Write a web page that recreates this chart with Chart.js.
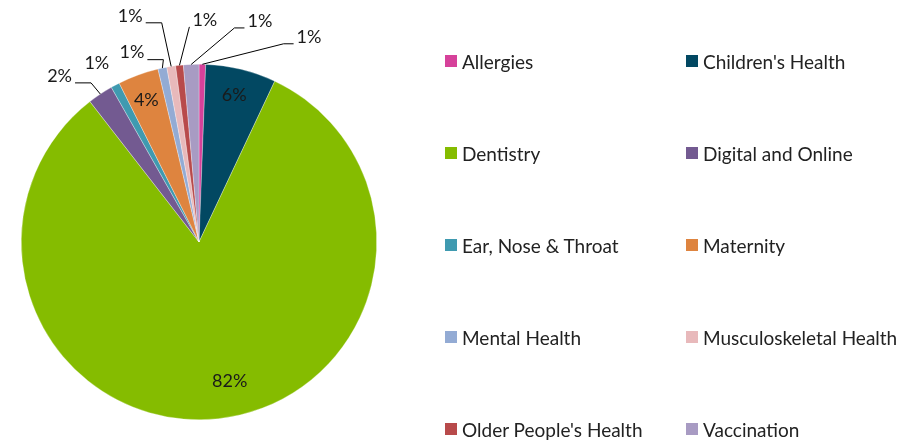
<!DOCTYPE html>
<html>
<head>
<meta charset="utf-8">
<script src="https://cdn.jsdelivr.net/npm/chart.js@4"></script>
<style>
  html, body { margin: 0; padding: 0; background: #fff; }
  #wrap { position: relative; width: 924px; height: 440px; overflow: hidden; }
  #pie { position: absolute; left: 0; top: 0; }
  .leg { position: absolute; display: flex; align-items: center; height: 22px;
         font-family: Lato, "Open Sans", sans-serif; font-size: 19px; color: #222; white-space: nowrap; }
  .leg i { display: inline-block; width: 12px; height: 12px; margin-right: 5px; }
</style>
</head>
<body>
<div id="wrap">
  <canvas id="pie" width="924" height="440"></canvas>
</div>
<script>
(function () {

  const categories = [
    "Allergies", "Children's Health", "Dentistry", "Digital and Online",
    "Ear, Nose & Throat", "Maternity", "Mental Health", "Musculoskeletal Health",
    "Older People's Health", "Vaccination"
  ];
  const shares = [0.6, 6.4, 82.4, 2.3, 0.8, 3.7, 0.8, 0.8, 0.7, 1.4];
  const colors = [
    "#d6419a", "#024862", "#85bc00", "#735a91", "#3f9ab0",
    "#de843f", "#93abd4", "#e8b9bb", "#b84a4b", "#a89bc3"
  ];

  /* label placement: in = inside slice, out = outside with leader line
     (ang = degrees clockwise from top, r = multiple of radius) */
  const labelPlace = [
    { out: true, ang: 28.2, r: 1.31, side: "right" },
    { ang: 13.5, r: 0.85 },
    { ang: 167.5, r: 0.8 },
    { out: true, ang: -40, r: 1.22, side: "left" },
    { out: true, ang: -29.7, r: 1.16, noLine: true },
    { ang: -20.4, r: 0.85 },
    { out: true, ang: -19.5, r: 1.13, side: "left" },
    { out: true, ang: -16.9, r: 1.33, side: "left" },
    { out: true, ang: 1.5, r: 1.25, side: "right", short: true },
    { out: true, ang: 15.4, r: 1.29, side: "right" }
  ];

  const total = shares.reduce((a, b) => a + b, 0);

  const pieLabels = {
    id: "pieLabels",
    afterDatasetsDraw(chart) {
      const ctx = chart.ctx;
      const arcs = chart.getDatasetMeta(0).data;
      ctx.save();
      ctx.font = "18px Lato, 'Open Sans', sans-serif";
      ctx.fillStyle = "#1a1a1a";
      ctx.textAlign = "center";
      ctx.textBaseline = "middle";
      ctx.strokeStyle = "#000";
      ctx.lineWidth = 1;
      arcs.forEach((arc, i) => {
        const p = arc.getProps(["x", "y", "startAngle", "endAngle", "outerRadius"], true);
        const lp = labelPlace[i];
        const txt = Math.round(shares[i] / total * 100) + "%";
        const a = (lp.ang - 90) * Math.PI / 180;
        const tx = p.x + Math.cos(a) * p.outerRadius * lp.r;
        const ty = p.y + Math.sin(a) * p.outerRadius * lp.r;
        ctx.fillText(txt, tx, ty);
        if (!lp.out || lp.noLine) return;
        const mid = (p.startAngle + p.endAngle) / 2;
        const ex = p.x + Math.cos(mid) * p.outerRadius;
        const ey = p.y + Math.sin(mid) * p.outerRadius;
        const w = ctx.measureText(txt).width;
        const ly = ty + 7;
        let hx1, hx2;
        if (lp.side === "left") {
          hx1 = tx + w / 2 + 3;
          hx2 = hx1 + 16;
        } else {
          hx1 = tx - w / 2 - 3;
          hx2 = lp.short ? hx1 : hx1 - 10;
        }
        ctx.beginPath();
        ctx.moveTo(hx1, ly);
        ctx.lineTo(hx2, ly);
        ctx.lineTo(ex, ey);
        ctx.stroke();
      });
      ctx.restore();
    }
  };

  new Chart(document.getElementById("pie").getContext("2d"), {
    type: "pie",
    data: {
      labels: categories,
      datasets: [{
        data: shares,
        backgroundColor: colors,
        borderColor: "rgba(255,255,255,0.6)",
        borderWidth: 0.5
      }]
    },
    options: {
      responsive: false,
      animation: false,
      layout: { padding: { left: 21, right: 547, top: 64, bottom: 20 } },
      plugins: {
        legend: { display: false },
        tooltip: { enabled: false }
      }
    },
    plugins: [pieLabels]
  });

  // legend, 2 columns x 5 rows
  const wrap = document.getElementById("wrap");
  categories.forEach((name, i) => {
    const d = document.createElement("div");
    d.className = "leg";
    d.style.left = (i % 2 === 0 ? 445 : 686) + "px";
    d.style.top = (50 + Math.floor(i / 2) * 92) + "px";
    d.innerHTML = '<i style="background:' + colors[i] + '"></i>' + name;
    wrap.appendChild(d);
  });

})();
</script>
</body>
</html>
